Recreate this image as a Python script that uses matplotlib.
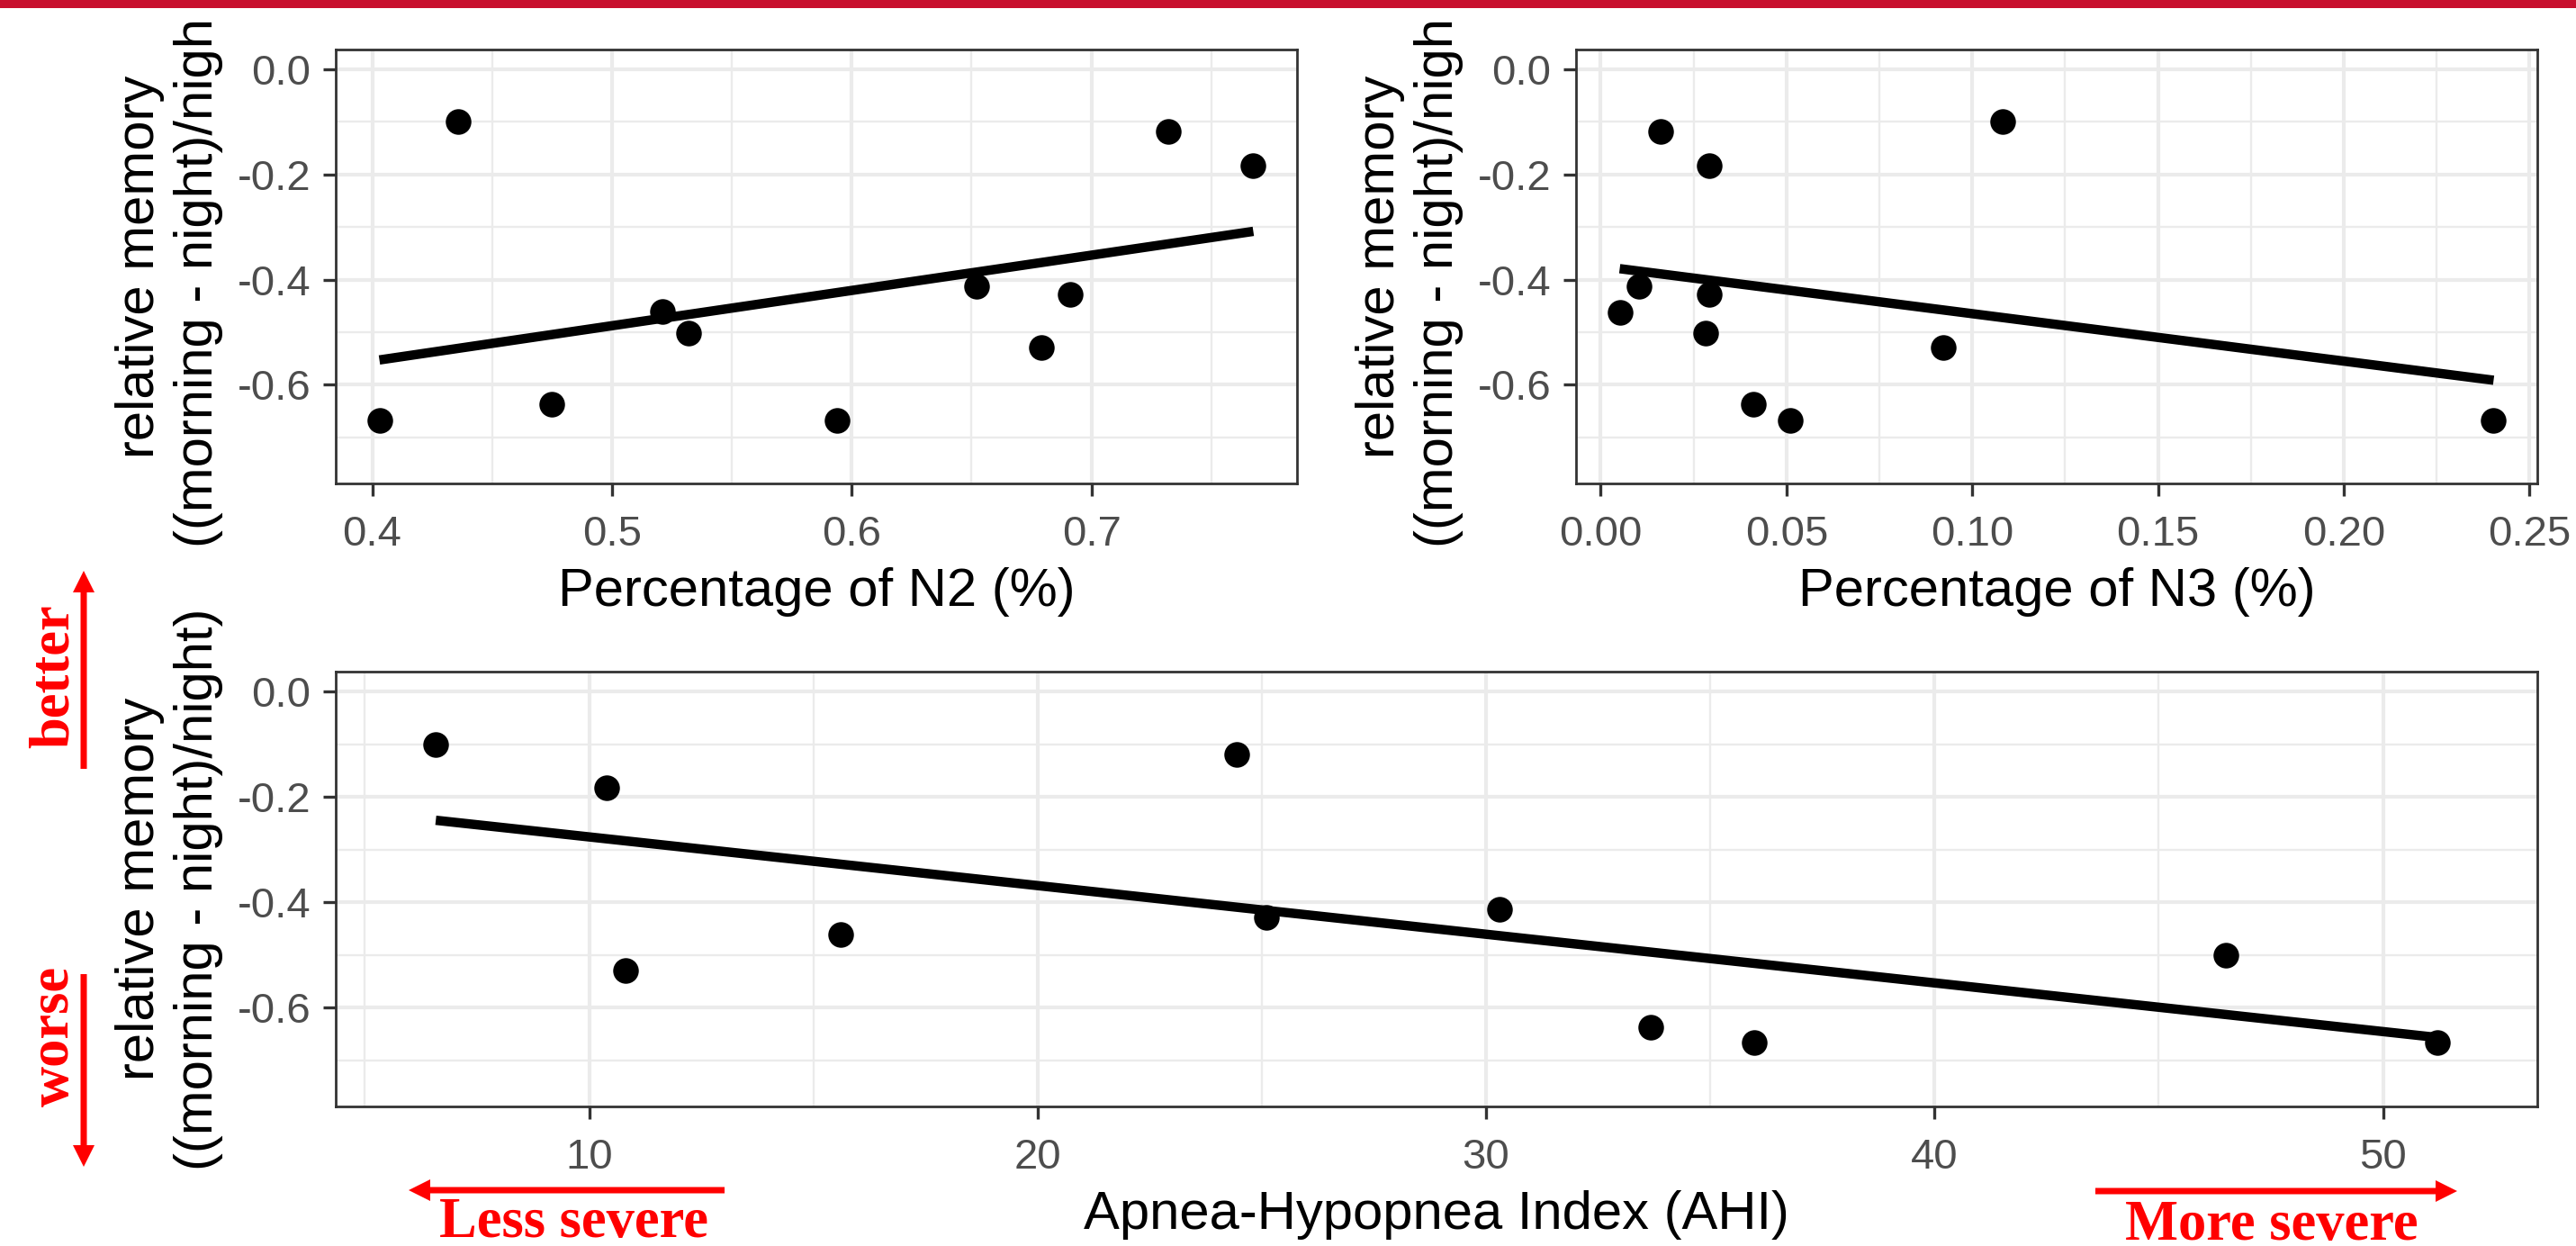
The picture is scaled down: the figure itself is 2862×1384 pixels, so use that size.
import numpy as np
import matplotlib
matplotlib.use('Agg')
import matplotlib.pyplot as plt
from matplotlib import transforms
from matplotlib.patches import Rectangle, FancyArrow

# N2 panel
n2 = [0.403, 0.436, 0.475, 0.521, 0.532, 0.594, 0.652, 0.679, 0.691, 0.732, 0.7675]
mem_n2 = [-0.667, -0.100, -0.637, -0.461, -0.501, -0.667, -0.413, -0.529, -0.428, -0.119, -0.183]

# N3 panel
n3 = [0.0051, 0.0102, 0.0161, 0.0283, 0.0292, 0.0292, 0.0411, 0.0510, 0.0921, 0.1082, 0.2403]
mem_n3 = [-0.463, -0.413, -0.119, -0.501, -0.428, -0.183, -0.637, -0.667, -0.529, -0.100, -0.667]

# AHI panel
ahi = [6.58, 10.39, 10.82, 15.61, 24.44, 25.11, 30.29, 33.68, 35.99, 46.50, 51.21]
mem_ahi = [-0.100, -0.183, -0.529, -0.461, -0.119, -0.428, -0.413, -0.637, -0.667, -0.501, -0.667]

y_ticks = [0.0, -0.2, -0.4, -0.6]
y_minor = [-0.1, -0.3, -0.5, -0.7]
n2_ticks = [0.4, 0.5, 0.6, 0.7]
n2_minor = [0.45, 0.55, 0.65, 0.75]
n3_ticks = [0.00, 0.05, 0.10, 0.15, 0.20, 0.25]
n3_minor = [0.025, 0.075, 0.125, 0.175, 0.225]
ahi_ticks = [10, 20, 30, 40, 50]
ahi_minor = [5, 15, 25, 35, 45]

ylab1 = 'relative memory'
ylab2 = '((morning - night)/night)'

W, H = 2862, 1384

plt.rcParams['font.family'] = ['Liberation Sans', 'DejaVu Sans']
plt.rcParams['axes.unicode_minus'] = False


def expand(vals):
    lo, hi = min(vals), max(vals)
    d = (hi - lo) * 0.05
    return lo - d, hi + d


def panel(fig, box, x, y, xt, xm, xfmt):
    l, t, r, b = box
    ax = fig.add_axes([l / W, 1 - b / H, (r - l) / W, (b - t) / H])
    ax.set_axisbelow(True)
    ax.scatter(x, y, s=420, color='black', zorder=3, linewidths=0)
    k, c = np.polyfit(x, y, 1)
    xx = np.linspace(min(x), max(x), 50)
    ax.plot(xx, k * xx + c, color='black', lw=7.5, zorder=2, solid_capstyle='butt')
    ax.set_xlim(*expand(x))
    ax.set_ylim(-0.7875, 0.0375)
    ax.set_xticks(xt)
    ax.set_xticklabels([xfmt.format(v) for v in xt])
    ax.set_yticks(y_ticks)
    ax.set_yticklabels(['{:.1f}'.format(v) for v in y_ticks])
    ax.set_xticks(xm, minor=True)
    ax.set_yticks(y_minor, minor=True)
    ax.grid(which='major', color='#EBEBEB', lw=3)
    ax.grid(which='minor', color='#EBEBEB', lw=1.7)
    ax.tick_params(which='major', length=10, width=2.4, color='#333333',
                   labelsize=34, labelcolor='#4D4D4D')
    ax.tick_params(axis='x', pad=15)
    ax.tick_params(axis='y', pad=10)
    ax.tick_params(which='minor', length=0)
    for s in ax.spines.values():
        s.set_color('#333333')
        s.set_linewidth(2)
    return ax


if __name__ == '__main__':
    fig = plt.figure(figsize=(W / 100, H / 100), dpi=100)
    px = transforms.Affine2D().scale(1 / W, -1 / H).translate(0, 1) + fig.transFigure

    panels = [((373, 55, 1441, 537), n2, mem_n2, n2_ticks, n2_minor, '{:.1f}', 'Percentage of N2 (%)'),
              ((1751, 55, 2819, 537), n3, mem_n3, n3_ticks, n3_minor, '{:.2f}', 'Percentage of N3 (%)'),
              ((373, 746, 2819, 1229), ahi, mem_ahi, ahi_ticks, ahi_minor, '{:.0f}', 'Apnea-Hypopnea Index (AHI)')]

    for box, x, y, xt, xm, fmt, xlab in panels:
        ax = panel(fig, box, x, y, xt, xm, fmt)
        l, t, r, b = box
        cy = (t + b) / 2
        fig.text(l - 202, cy, ylab1, transform=px, rotation=90, rotation_mode='anchor',
                 ha='center', va='baseline', fontsize=43)
        fig.text(l - 137, cy, ylab2, transform=px, rotation=90, rotation_mode='anchor',
                 ha='center', va='baseline', fontsize=43)
        fig.text((l + r) / 2, b + 136, xlab, transform=px, ha='center', va='baseline', fontsize=43)

    # red annotations
    red = '#FF0000'
    serif = dict(family=['Liberation Serif', 'DejaVu Serif'], weight='bold', fontsize=45, color=red)
    fig.text(76, 751, 'better', transform=px, rotation=90, rotation_mode='anchor',
             ha='center', va='baseline', **serif)
    fig.text(76, 1151, 'worse', transform=px, rotation=90, rotation_mode='anchor',
             ha='center', va='baseline', **serif)
    fig.text(638, 1374, 'Less severe', transform=px, ha='center', va='baseline', **serif)
    fig.text(2524, 1377, 'More severe', transform=px, ha='center', va='baseline', **serif)

    arrows = [(805, 1322, 454 - 805, 0), (2328, 1323, 2730 - 2328, 0),
              (93, 854, 0, 634 - 854), (93, 1082, 0, 1296 - 1082)]
    for x0, y0, dx, dy in arrows:
        fig.patches.append(FancyArrow(x0, y0, dx, dy, width=7, head_width=24, head_length=24,
                                      length_includes_head=True, color=red, lw=0,
                                      transform=px, figure=fig))

    # white strip and red bar on top
    fig.patches.append(Rectangle((0, 0), W, 24, transform=px, color='white', lw=0, zorder=20, figure=fig))
    fig.patches.append(Rectangle((0, 0), W, 9, transform=px, color='#C8102E', lw=0, zorder=21, figure=fig))

    fig.savefig('out.png', dpi=100)
